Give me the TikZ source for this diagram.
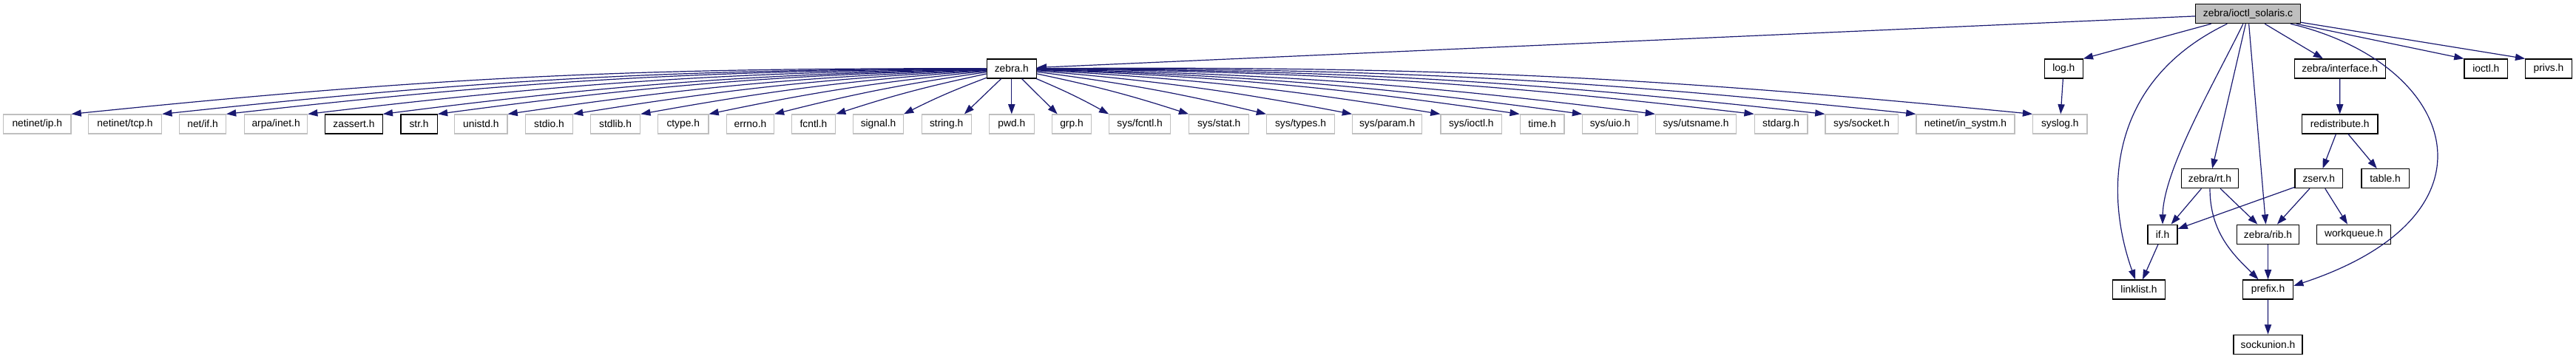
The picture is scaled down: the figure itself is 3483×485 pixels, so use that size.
\documentclass[tikz,border=0pt]{standalone}
\usepackage{fontspec}
\setmainfont{Liberation Sans}
\usetikzlibrary{arrows.meta}
\definecolor{edgeblue}{HTML}{191970}
\definecolor{extgray}{HTML}{BFBFBF}
\begin{document}
\begin{tikzpicture}[
x=0.25pt,y=0.25pt,
w/.style={minimum width=#1*0.25pt},
file/.style={draw=black,line width=0.3pt,inner sep=0pt,minimum height=6.5pt,font=\fontsize{3.45}{4}\selectfont},
ext/.style={file,draw=extgray},
dep/.style={draw=edgeblue,line width=0.3pt,-{Triangle[length=3.3pt,width=2.3pt]}}
]
\useasboundingbox (0,0) rectangle (3483,485);
% top
\node[file,fill=extgray,w=141.4] (ioctl) at (3039.5,466.3) {zebra/ioctl\_solaris.c};
% rank 1
\node[file,w=67] (zebra) at (1367.8,392) {zebra.h};
\node[file,w=51.8] (log) at (2790.3,392) {log.h};
\node[file,w=122.8] (iface) at (3163.7,392) {zebra/interface.h};
\node[file,w=58.6] (ioctlh) at (3361.3,392) {ioctl.h};
\node[file,w=62.5] (privs) at (3446,392) {privs.h};
% rank 2
\node[ext,w=91.4] (ip) at (50.3,317) {netinet/ip.h};
\node[ext,w=99.3] (tcp) at (169.05,317) {netinet/tcp.h};
\node[ext,w=62.6] (netif) at (274.1,317) {net/if.h};
\node[ext,w=84.9] (inet) at (373.15,317) {arpa/inet.h};
\node[file,w=77.5] (zassert) at (478.45,317) {zassert.h};
\node[file,w=49.4] (str) at (566.6,317) {str.h};
\node[ext,w=71.2] (unistd) at (650.4,317) {unistd.h};
\node[ext,w=63.7] (stdio) at (742.55,317) {stdio.h};
\node[ext,w=67.2] (stdlib) at (832.1,317) {stdlib.h};
\node[ext,w=68.3] (ctype) at (923.75,317) {ctype.h};
\node[ext,w=63.7] (errno) at (1014.45,317) {errno.h};
\node[ext,w=59.2] (fcntl) at (1100,317) {fcntl.h};
\node[ext,w=67.7] (signal) at (1187.55,317) {signal.h};
\node[ext,w=67.2] (string) at (1279.7,317) {string.h};
\node[ext,w=60.8] (pwd) at (1367.8,317) {pwd.h};
\node[ext,w=53.4] (grp) at (1449,317) {grp.h};
\node[ext,w=82.7] (sysfcntl) at (1541.15,317) {sys/fcntl.h};
\node[ext,w=81] (sysstat) at (1648.2,317) {sys/stat.h};
\node[ext,w=91.9] (systypes) at (1758.55,317) {sys/types.h};
\node[ext,w=94.1] (sysparam) at (1875.65,317) {sys/param.h};
\node[ext,w=82.7] (sysioctl) at (1989.35,317) {sys/ioctl.h};
\node[ext,w=59.7] (time) at (2085.15,317) {time.h};
\node[ext,w=74.7] (sysuio) at (2177.05,317) {sys/uio.h};
\node[ext,w=109] (utsname) at (2293,317) {sys/utsname.h};
\node[ext,w=71.8] (stdarg) at (2408.1,317) {stdarg.h};
\node[ext,w=98.3] (syssocket) at (2517.15,317) {sys/socket.h};
\node[ext,w=132.9] (insystm) at (2657.45,317) {netinet/in\_systm.h};
\node[ext,w=73.2] (syslog) at (2785.3,317) {syslog.h};
\node[file,w=102.5] (redist) at (3163.65,317) {redistribute.h};
% rank 3
\node[file,w=77.7] (rt) at (2988,243.3) {zebra/rt.h};
\node[file,w=64.7] (zserv) at (3135.25,243.3) {zserv.h};
\node[file,w=64.2] (table) at (3225.1,243.3) {table.h};
% rank 4
\node[file,w=40] (ifh) at (2924,167.8) {if.h};
\node[file,w=83.9] (rib) at (3066.55,167.8) {zebra/rib.h};
\node[file,w=99.7] (workq) at (3182.55,167.8) {workqueue.h};
% rank 5
\node[file,w=70.4] (linklist) at (2892,93.1) {linklist.h};
\node[file,w=68.1] (prefix) at (3066.55,93.1) {prefix.h};
% rank 6
\node[file,w=93] (sockunion) at (3066.5,18.8) {sockunion.h};
% zebra.h fan
\foreach \t in {ip,tcp,netif,inet,zassert,str,unistd,stdio,stdlib,ctype,errno,fcntl,signal}
  \draw[dep] (zebra) to[bend right=3] (\t.north east);
\draw[dep] (zebra) -- ([xshift=-2.5pt]string.north east);
\draw[dep] (zebra) -- (pwd);
\draw[dep] (zebra) -- ([xshift=2pt]grp.north west);
\foreach \t in {sysfcntl,sysstat,systypes,sysparam,sysioctl,time,sysuio,utsname,stdarg,syssocket,insystm,syslog}
  \draw[dep] (zebra) to[bend left=3] (\t.north west);
% zebra/ioctl_solaris.c
\draw[dep] (ioctl) -- (zebra);
\draw[dep] (ioctl) -- (log.north east);
\draw[dep] (ioctl) .. controls (2850,375) and (2845,225) .. ([xshift=-1.25pt]linklist.north);
\draw[dep] (ioctl) .. controls (2995,375) and (2925,255) .. (ifh.north);
\draw[dep] (ioctl) -- (rt);
\draw[dep] (ioctl) -- ([xshift=-0.75pt]rib.north);
\draw[dep] (ioctl) -- (iface);
\draw[dep] (ioctl) .. controls (3320,400) and (3395,195) .. ([yshift=1.25pt]prefix.east);
\draw[dep] (ioctl) -- (ioctlh.north west);
\draw[dep] (ioctl) -- (privs.north west);
% the rest
\draw[dep] (log) -- (syslog);
\draw[dep] (iface) -- (redist);
\draw[dep] (redist) -- (zserv);
\draw[dep] (redist) -- (table);
\draw[dep] (rt) -- (ifh);
\draw[dep] (rt) -- (rib);
\draw[dep] (rt.south) .. controls (2988,170) and (3020,140) .. ([xshift=-3.25pt]prefix.north);
\draw[dep] (zserv) -- (ifh);
\draw[dep] (zserv) -- (rib);
\draw[dep] (zserv) -- (workq);
\draw[dep] (ifh) -- ([xshift=1.25pt]linklist.north);
\draw[dep] (rib) -- (prefix);
\draw[dep] (prefix) -- (sockunion);
\end{tikzpicture}
\end{document}
